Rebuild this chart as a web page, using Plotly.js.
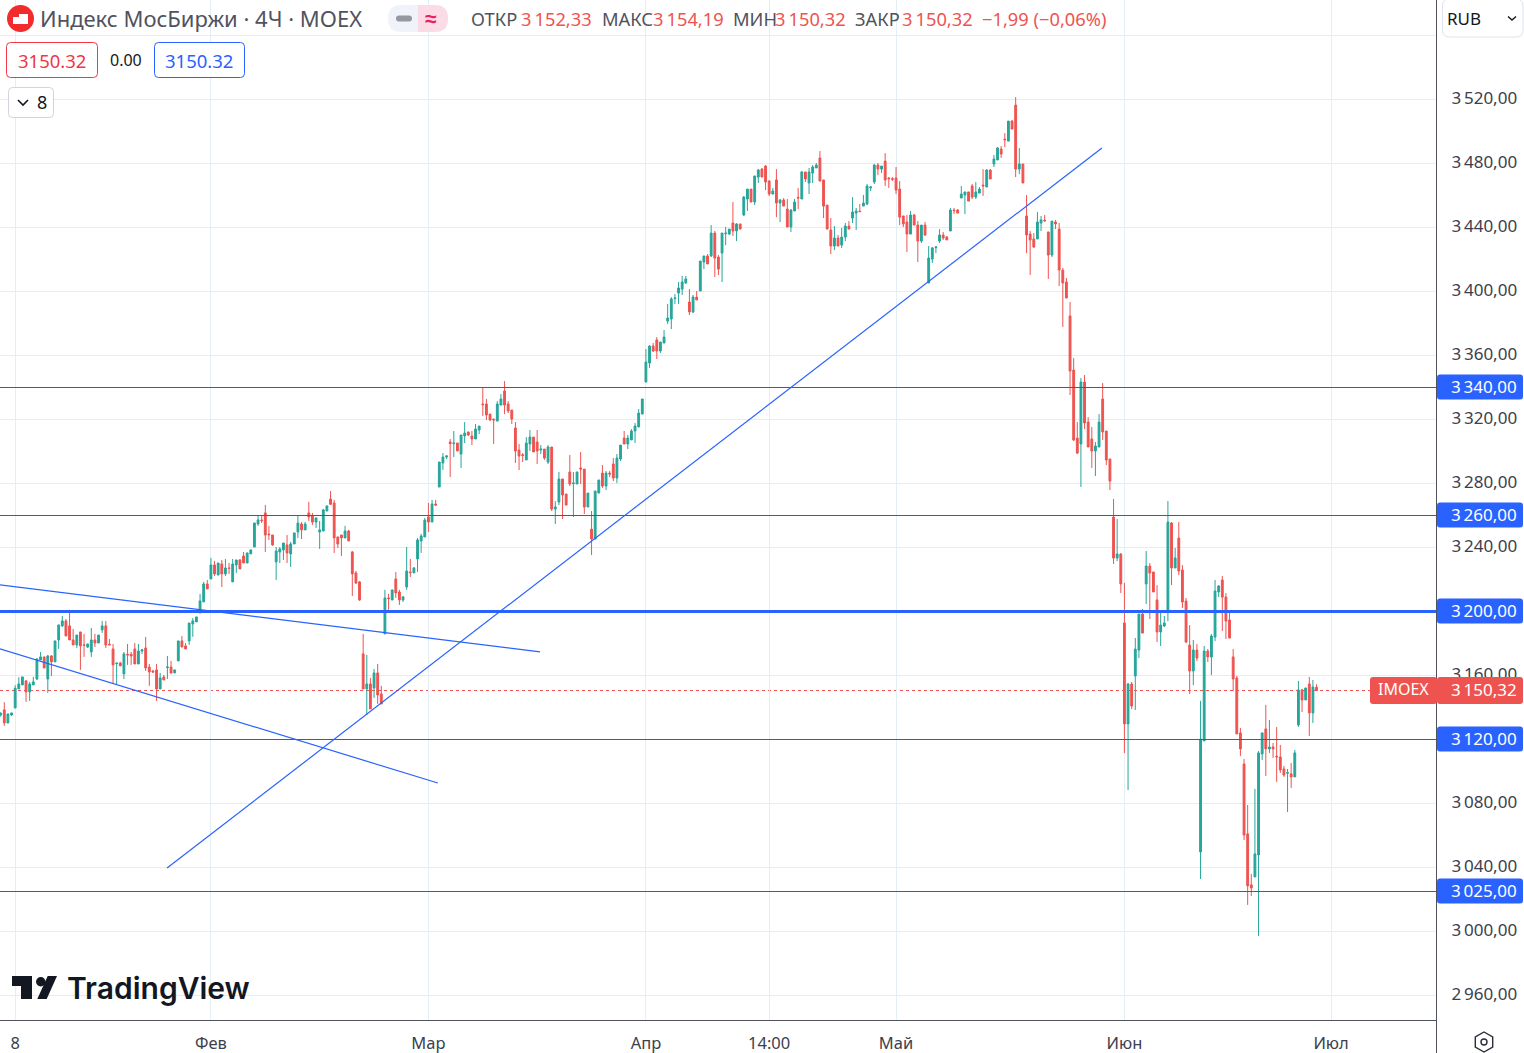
<!DOCTYPE html>
<html><head><meta charset="utf-8">
<script src="https://cdn.plot.ly/plotly-3.0.1.min.js"></script>
<style>html,body{margin:0;padding:0;background:#fff;overflow:hidden}#c{width:1524px;height:1053px}</style>
</head><body><div id="c"></div>
<script>
// Each row: open, high, low, close
const candlesJan = [
[3135.0,3136.7,3134.0,3136.1],[3138.2,3143.0,3128.2,3130.0],[3130.0,3135.7,3130.0,3135.7],[3135.0,3136.3,3134.4,3136.3],
[3139.4,3153.6,3139.4,3151.7],[3151.3,3158.6,3151.3,3154.4],[3153.8,3158.8,3153.8,3158.8],[3156.3,3156.9,3143.2,3149.4],
[3149.4,3155.7,3143.8,3154.4],[3153.8,3158.8,3153.8,3155.7],[3157.5,3170.5,3156.9,3170.0],[3169.4,3174.4,3169.4,3171.3],
[3171.3,3171.3,3164.4,3164.4],[3157.5,3172.5,3148.8,3171.9],[3171.9,3172.5,3159.4,3168.2],[3168.2,3181.3,3168.2,3181.3],
[3181.9,3191.3,3176.3,3191.3],[3190.7,3196.9,3190.0,3193.8],[3193.8,3195.0,3184.4,3184.4],[3190.7,3200.7,3181.9,3181.9],
[3181.9,3188.8,3178.8,3178.8],[3178.8,3185.0,3176.9,3185.0],[3186.9,3186.9,3163.2,3178.2],[3178.8,3185.7,3171.3,3178.6],
[3177.5,3179.4,3176.9,3179.4],[3174.4,3189.4,3171.3,3181.9],[3181.9,3185.7,3177.5,3180.0],[3180.0,3185.0,3180.0,3185.0],
[3188.2,3193.8,3186.3,3190.7],[3190.7,3193.8,3176.9,3178.8],[3179.2,3182.5,3178.8,3178.8],[3176.3,3179.4,3154.4,3166.3],
[3167.1,3167.5,3154.4,3167.5],[3167.5,3168.2,3165.7,3165.7],[3160.7,3174.4,3157.5,3173.2],[3172.9,3179.4,3166.3,3172.5],
[3172.9,3174.4,3166.3,3171.9],[3176.3,3180.0,3166.9,3166.9],[3166.9,3179.4,3166.9,3175.0],[3175.0,3176.3,3173.2,3175.7],
[3176.9,3183.8,3162.5,3164.4],[3165.0,3166.9,3153.2,3161.9],[3162.5,3163.2,3161.3,3161.9],[3163.2,3166.9,3143.8,3151.3],
[3151.3,3161.3,3151.3,3158.2],[3158.8,3160.0,3156.9,3156.9],[3164.6,3171.9,3157.5,3165.0],[3165.0,3168.8,3160.7,3161.3],
[3161.3,3163.2,3161.3,3163.2],[3168.8,3181.3,3168.8,3181.3],[3181.3,3184.4,3177.5,3177.5],[3178.2,3180.0,3176.3,3176.3],
[3181.3,3192.5,3178.8,3192.5],[3191.9,3195.6,3183.8,3193.8],[3193.2,3196.3,3193.2,3196.3],[3198.8,3210.7,3198.8,3206.3],
[3205.7,3218.2,3205.7,3216.9],[3216.9,3219.4,3213.8,3213.8]];
const candlesFeb = [
[3220.0,3233.2,3220.0,3228.8],[3228.8,3231.3,3221.9,3223.2],[3222.5,3230.0,3222.5,3230.0],[3229.4,3231.9,3215.0,3223.2],
[3223.2,3232.5,3221.9,3226.9],[3226.9,3230.0,3223.2,3226.6],[3218.2,3232.5,3218.2,3229.4],[3228.8,3231.9,3223.8,3231.9],
[3231.9,3232.5,3226.3,3226.3],[3234.4,3236.9,3230.0,3230.0],[3230.0,3236.3,3230.0,3236.3],[3235.7,3238.2,3235.7,3238.2],
[3240.0,3255.0,3240.0,3255.0],[3254.4,3259.4,3253.2,3256.9],[3256.9,3260.0,3255.0,3256.5],[3261.3,3266.3,3236.9,3247.5],
[3248.1,3253.2,3244.4,3247.7],[3247.5,3247.5,3240.7,3241.3],[3230.7,3240.0,3219.4,3237.5],[3236.9,3240.0,3230.0,3238.8],
[3238.2,3242.5,3231.9,3242.5],[3241.3,3247.5,3230.0,3236.3],[3235.7,3243.2,3227.5,3241.9],[3241.9,3248.8,3241.9,3248.8],
[3249.4,3259.4,3245.7,3255.0],[3254.4,3255.6,3245.0,3250.7],[3250.7,3255.6,3250.7,3254.4],[3261.3,3268.2,3256.3,3258.8],
[3259.4,3261.3,3253.8,3255.6],[3255.6,3258.2,3251.9,3258.2],[3249.4,3256.3,3238.8,3250.7],[3250.0,3263.8,3250.0,3263.2],
[3262.5,3265.7,3262.5,3265.7],[3270.0,3275.0,3266.3,3266.7],[3267.5,3269.4,3236.3,3245.7],[3246.3,3246.3,3239.4,3241.9],
[3247.5,3247.5,3234.4,3245.7],[3245.7,3253.2,3245.7,3250.0],[3250.0,3250.7,3243.8,3243.8],[3236.9,3237.5,3209.4,3223.2],
[3223.8,3225.0,3216.9,3217.5],[3218.2,3218.8,3206.3,3206.9],[3173.2,3185.7,3151.3,3151.3],[3151.3,3172.5,3135.0,3154.4],
[3154.4,3158.2,3138.8,3138.8],[3151.9,3163.8,3145.7,3161.3],[3161.3,3166.9,3141.9,3147.5],[3148.2,3153.2,3141.9,3141.9],
[3185.7,3213.2,3185.7,3208.2],[3208.2,3210.7,3200.7,3207.7],[3206.9,3213.2,3206.9,3213.2],[3220.0,3224.4,3208.2,3211.3],
[3211.9,3213.2,3203.8,3206.9],[3206.9,3209.4,3205.7,3208.8],[3215.0,3240.0,3213.2,3225.0],[3224.4,3232.5,3221.3,3224.0],
[3223.8,3227.5,3223.8,3226.9],[3232.5,3245.7,3224.4,3244.4],[3243.8,3248.2,3236.3,3246.9],[3246.3,3258.2,3246.3,3256.9]];
const candlesMar = [
[3258.8,3267.5,3249.4,3255.6],[3255.6,3269.4,3255.6,3266.9],[3266.9,3269.4,3265.6,3266.2],[3277.5,3293.1,3277.5,3293.1],
[3292.5,3298.7,3288.1,3296.2],[3296.2,3297.5,3295.0,3296.9],[3305.6,3307.5,3283.7,3304.6],[3304.6,3312.5,3296.2,3305.0],
[3305.0,3305.0,3300.0,3300.0],[3298.1,3310.0,3289.4,3310.0],[3309.4,3318.1,3305.0,3311.2],[3311.9,3311.9,3309.4,3310.0],
[3309.4,3312.5,3303.7,3307.5],[3307.5,3316.9,3307.5,3313.7],[3313.1,3315.6,3310.6,3315.6],[3329.4,3340.0,3321.9,3328.9],
[3329.4,3332.5,3319.4,3322.5],[3323.1,3323.1,3318.7,3319.4],[3320.0,3320.0,3304.4,3319.4],[3318.7,3331.2,3318.7,3329.4],
[3328.7,3335.6,3328.7,3332.5],[3337.5,3343.7,3323.1,3328.7],[3329.4,3331.2,3323.7,3325.0],[3325.6,3325.6,3316.9,3320.0],
[3314.4,3318.1,3292.5,3300.0],[3300.6,3304.4,3288.1,3296.9],[3297.7,3298.7,3293.1,3297.2],[3294.4,3308.7,3294.4,3305.0],
[3304.4,3313.1,3300.0,3308.7],[3308.7,3308.7,3299.4,3299.4],[3305.6,3313.1,3291.9,3300.0],[3300.6,3303.7,3298.1,3301.2],
[3301.2,3301.2,3294.4,3295.6],[3293.1,3303.7,3291.9,3302.5],[3302.5,3302.5,3262.5,3263.7],[3263.7,3268.7,3254.4,3265.0],
[3268.1,3286.9,3266.2,3282.5],[3282.5,3282.5,3257.5,3272.5],[3273.1,3273.1,3266.2,3266.2],[3286.9,3297.5,3278.1,3279.4],
[3279.6,3286.9,3258.7,3280.0],[3279.4,3286.9,3279.4,3286.9],[3289.4,3299.4,3279.4,3288.7],[3288.7,3288.7,3260.6,3265.0],
[3265.0,3273.7,3265.0,3273.7],[3251.2,3262.5,3235.0,3245.0],[3245.0,3275.0,3245.0,3275.0],[3273.7,3281.9,3273.7,3281.9],
[3286.2,3291.2,3276.9,3278.1],[3278.1,3287.5,3275.6,3286.2],[3286.2,3287.5,3283.7,3285.6],[3291.9,3295.6,3281.2,3283.1],
[3283.1,3298.1,3280.0,3295.6],[3295.0,3303.7,3293.7,3303.7],[3308.1,3312.5,3304.4,3304.4],[3304.4,3310.0,3301.2,3308.1],
[3306.9,3313.7,3306.9,3312.5],[3312.5,3317.5,3305.0,3315.6],[3315.0,3326.2,3315.0,3323.7],[3323.1,3332.5,3323.1,3332.5]];
const candlesApr = [
[3343.1,3363.7,3343.1,3355.6],[3355.0,3366.2,3351.9,3365.6],[3365.6,3367.5,3361.9,3362.5],[3369.4,3371.2,3357.5,3362.5],
[3362.5,3368.1,3361.2,3368.1],[3367.5,3375.6,3367.5,3371.2],[3381.2,3391.9,3379.4,3383.1],[3382.5,3396.2,3376.2,3395.0],
[3395.2,3398.1,3391.9,3395.6],[3398.7,3405.6,3391.9,3401.9],[3401.2,3409.4,3397.5,3405.6],[3405.0,3409.4,3404.4,3407.5],
[3393.1,3401.2,3385.0,3386.9],[3386.9,3397.5,3386.2,3396.2],[3396.2,3400.0,3394.4,3394.4],[3400.0,3418.7,3400.0,3418.7],
[3418.1,3421.9,3413.7,3421.9],[3421.9,3423.1,3416.9,3416.9],[3421.9,3441.2,3421.2,3436.2],[3436.2,3437.5,3408.7,3420.6],
[3421.2,3422.5,3410.0,3413.7],[3423.7,3436.2,3405.6,3436.2],[3435.8,3440.0,3428.7,3436.2],[3435.6,3438.7,3435.0,3438.7],
[3442.5,3455.6,3434.4,3437.5],[3437.5,3442.5,3431.2,3441.9],[3441.9,3441.9,3438.7,3438.7],[3447.5,3459.4,3446.9,3458.7],
[3457.5,3463.7,3450.0,3463.7],[3463.7,3463.7,3455.6,3455.6],[3455.6,3471.9,3453.7,3471.9],[3471.2,3476.2,3467.5,3475.6],
[3476.2,3476.9,3471.2,3471.2],[3478.1,3478.7,3463.1,3468.1],[3468.7,3469.4,3459.4,3460.6],[3460.6,3464.4,3460.6,3462.5],
[3469.4,3476.2,3446.2,3455.0],[3455.0,3457.5,3443.1,3456.9],[3456.9,3458.1,3453.1,3453.1],[3451.2,3457.5,3440.0,3440.0],
[3440.0,3451.2,3436.9,3450.6],[3450.0,3457.5,3450.0,3455.6],[3458.5,3464.4,3451.2,3458.1],[3457.5,3475.0,3457.5,3474.4],
[3474.4,3474.4,3468.1,3470.0],[3467.5,3476.9,3460.6,3474.4],[3473.7,3478.7,3467.5,3477.5],[3476.9,3480.0,3476.9,3478.7],
[3483.1,3487.5,3468.7,3468.7],[3469.4,3469.4,3445.6,3453.1],[3453.7,3453.7,3438.7,3438.7],[3438.1,3445.6,3423.1,3428.1],
[3428.1,3440.6,3425.6,3433.1],[3433.1,3435.0,3428.1,3428.1],[3428.7,3439.4,3426.9,3433.7],[3433.7,3442.5,3431.2,3440.6],
[3440.6,3443.7,3438.7,3438.7],[3445.6,3458.7,3442.5,3449.4],[3448.7,3451.9,3438.1,3450.0],[3449.9,3454.4,3449.4,3449.6],
[3453.1,3460.0,3453.1,3455.0],[3454.4,3466.9,3453.7,3465.6],[3464.4,3465.6,3462.5,3465.0],[3468.1,3479.4,3466.9,3478.7],
[3478.7,3480.0,3472.5,3476.2],[3476.2,3478.1,3473.7,3478.1],[3481.2,3486.2,3465.6,3469.4],[3470.6,3471.2,3464.4,3470.2],
[3470.2,3471.2,3468.7,3469.8]];
const candlesMay = [
[3470.6,3477.5,3460.6,3463.1],[3463.7,3468.7,3441.2,3446.2],[3446.9,3446.9,3440.0,3441.9],[3443.1,3447.5,3424.4,3435.6],
[3435.6,3450.0,3435.6,3447.5],[3447.5,3448.1,3441.2,3441.2],[3441.2,3443.7,3418.1,3431.2],[3431.2,3441.2,3430.0,3441.2],
[3441.2,3443.1,3434.4,3435.0],[3405.0,3428.1,3405.0,3420.6],[3420.0,3427.5,3417.5,3426.9],[3427.1,3428.1,3423.7,3427.5],
[3431.2,3438.7,3430.0,3435.0],[3435.0,3436.9,3431.9,3433.1],[3433.7,3434.4,3431.9,3431.9],[3437.5,3451.9,3437.5,3450.6],
[3450.6,3451.9,3448.1,3450.2],[3450.6,3451.2,3448.7,3448.7],[3458.1,3465.6,3458.1,3460.6],[3460.0,3461.9,3448.1,3461.9],
[3461.9,3461.9,3456.2,3456.2],[3465.6,3466.9,3457.5,3458.7],[3458.7,3468.1,3457.5,3461.9],[3461.2,3465.0,3461.2,3463.7],
[3466.2,3476.2,3459.4,3465.7],[3465.0,3476.2,3465.0,3475.6],[3475.6,3476.2,3470.0,3470.0],[3479.4,3485.0,3477.5,3482.5],
[3481.9,3490.0,3481.9,3489.4],[3488.7,3490.6,3483.1,3485.6],[3494.9,3498.7,3490.0,3494.5],[3493.7,3506.2,3493.7,3506.2],
[3506.2,3506.9,3501.2,3501.2],[3516.2,3521.2,3471.2,3476.2],[3476.2,3489.4,3473.1,3479.4],[3479.4,3479.4,3467.5,3467.5],
[3446.9,3460.0,3423.7,3435.0],[3435.6,3437.5,3410.0,3431.9],[3432.5,3436.2,3426.9,3427.5],[3432.5,3449.4,3432.5,3443.1],
[3442.5,3446.9,3437.5,3444.4],[3444.3,3447.5,3443.1,3443.9],[3436.9,3436.9,3407.5,3422.5],[3422.5,3443.7,3421.2,3443.7],
[3443.1,3444.4,3438.7,3441.9],[3438.7,3442.5,3403.1,3413.1],[3413.1,3414.4,3377.5,3405.0],[3405.6,3408.1,3395.6,3395.6],
[3384.4,3393.1,3335.0,3350.0],[3350.6,3358.1,3306.2,3306.9],[3308.1,3318.1,3298.1,3298.7],[3304.4,3345.6,3277.5,3343.1],
[3343.1,3347.5,3313.7,3317.5],[3318.1,3321.2,3302.5,3302.5],[3307.5,3315.0,3289.4,3300.0],[3300.0,3305.6,3284.4,3303.1],
[3302.5,3323.1,3302.5,3318.1],[3332.5,3342.5,3306.9,3311.9],[3312.5,3312.5,3291.2,3294.4],[3295.0,3295.0,3275.6,3281.2],
[3258.7,3270.0,3229.4,3233.1],[3233.1,3257.5,3231.2,3235.6],[3235.6,3236.2,3211.2,3216.9]];
const candlesJun = [
[3192.5,3217.5,3111.2,3129.4],[3129.4,3155.0,3088.1,3154.4],[3154.4,3155.6,3138.7,3140.6],[3159.4,3183.1,3138.1,3176.2],
[3175.6,3198.1,3170.6,3198.1],[3198.1,3201.2,3186.2,3186.2],[3216.9,3237.5,3204.4,3228.1],[3228.1,3230.0,3195.0,3223.7],
[3224.4,3224.4,3211.9,3211.9],[3206.9,3216.2,3180.6,3186.9],[3186.9,3200.0,3178.1,3191.2],[3190.6,3196.9,3190.0,3192.5],
[3199.4,3268.7,3193.7,3255.6],[3255.0,3255.6,3216.2,3226.9],[3226.9,3239.4,3226.9,3233.1],[3245.6,3255.6,3222.5,3225.0],
[3225.6,3228.7,3201.9,3205.6],[3206.2,3208.1,3180.0,3180.6],[3178.7,3191.2,3148.1,3162.5],[3162.5,3181.9,3153.7,3175.6],
[3175.6,3179.4,3168.7,3170.6],[3049.4,3143.8,3032.5,3120.0],[3118.8,3178.1,3118.8,3175.0],[3175.0,3176.3,3168.2,3171.3],
[3171.2,3185.6,3160.0,3184.4],[3183.7,3219.4,3181.2,3212.5],[3211.9,3216.2,3208.7,3215.6],[3219.4,3221.9,3187.5,3208.7],
[3208.7,3211.2,3182.5,3193.7],[3194.4,3200.6,3183.1,3183.1],[3171.3,3176.3,3150.0,3157.5],[3158.1,3159.4,3123.2,3123.2],
[3123.8,3126.9,3109.4,3113.8],[3104.4,3107.5,3056.9,3060.0],[3060.7,3078.8,3016.3,3028.2],[3028.8,3035.7,3021.9,3026.9],
[3033.8,3088.8,3033.8,3048.2],[3047.5,3112.5,2996.9,3111.3],[3110.7,3123.8,3106.9,3123.8],[3126.3,3141.3,3096.9,3113.8],
[3113.8,3131.9,3111.3,3115.0],[3115.0,3117.5,3108.2,3113.8],[3109.2,3127.5,3093.2,3108.8],[3108.8,3116.3,3098.8,3100.7],
[3101.3,3103.2,3096.3,3097.5],[3098.6,3101.3,3074.4,3099.0],[3098.2,3105.0,3089.4,3096.3],[3096.3,3113.2,3096.3,3111.3],
[3128.8,3156.3,3127.5,3150.7],[3150.7,3151.3,3136.9,3144.4],[3144.4,3151.9,3144.4,3151.9],[3154.4,3158.8,3121.9,3136.3],
[3136.3,3156.9,3130.0,3152.5],[3152.33,3154.19,3150.32,3150.32]];

const priceTicks = [3560,3520,3480,3440,3400,3360,3320,3280,3240,3200,3160,3120,3080,3040,3000,2960];
const priceLabels = ["","3\u2009520,00","3\u2009480,00","3\u2009440,00","3\u2009400,00","3\u2009360,00","3\u2009320,00","3\u2009280,00","3\u2009240,00","3\u2009200,00","3\u2009160,00","3\u2009120,00","3\u2009080,00","3\u2009040,00","3\u2009000,00","2\u2009960,00"];
const timeTicks = [4,58,118,178,212,247,310,367];
const timeLabels = ["8","Фев","Мар","Апр","14:00","Май","Июн","Июл"];
const levels = [3340,3260,3120,3025];
const levelLabels = ["3\u2009340,00","3\u2009260,00","3\u2009120,00","3\u2009025,00"];
const breakoutLevel = 3200, breakoutLabel = "3\u2009200,00";
const lastPrice = 3150.32, lastLabel = "3\u2009150,32";
// Trend lines: candle number and price at each end
const trends = [[45.9,3039.4,303.8,3489.4],[-0.2,3216.3,148.8,3174.4],[-0.2,3176.3,120.6,3092.5]];
const legendItems = [["ОТКР",469,"3\u2009152,33",519],["МАКС",600,"3\u2009154,19",651],["МИН",731,"3\u2009150,32",773],["ЗАКР",853,"3\u2009150,32",900]];

const rows = [...candlesJan,...candlesFeb,...candlesMar,...candlesApr,...candlesMay,...candlesJun];
const idx = rows.map((_,i)=>i);
const UP='#26a69a', DOWN='#ef5350', BLUE='#2962ff', INK='#50535e', TXT='#3c404d', LEVEL='#2a5bd7';
const FONT='"Noto Sans", sans-serif';
const W=1436, H=1020, STEP=3.625, X0=0.67;
const HALF=0.3125; // half a pixel in price units, keeps thin horizontal lines crisp
const px=x=>x/W, py=y=>1-y/H;
const yOf=p=>99+(3520-p)*1.6;

const shapes=[], ann=[];
function P(x,y){return px(x)+','+py(y);}
function rrect(x0,y0,x1,y1,r,fill,line,lw){
  const d='M'+P(x0+r,y0)+' L'+P(x1-r,y0)+' Q'+P(x1,y0)+' '+P(x1,y0+r)+' L'+P(x1,y1-r)+' Q'+P(x1,y1)+' '+P(x1-r,y1)+' L'+P(x0+r,y1)+' Q'+P(x0,y1)+' '+P(x0,y1-r)+' L'+P(x0,y0+r)+' Q'+P(x0,y0)+' '+P(x0+r,y0)+' Z';
  shapes.push({type:'path',xref:'paper',yref:'paper',path:d,fillcolor:fill,line:{color:line||'rgba(0,0,0,0)',width:line?(lw||1):0},layer:'above'});
}
function poly(pts,fill,line,lw,closed){
  const d=pts.map((p,i)=>(i?'L':'M')+P(p[0],p[1])).join(' ')+(closed?' Z':'');
  shapes.push({type:'path',xref:'paper',yref:'paper',path:d,fillcolor:fill||'rgba(0,0,0,0)',line:{color:line||'rgba(0,0,0,0)',width:line?(lw||1):0},layer:'above'});
}
function txt(t,x,y,size,color,anchor,weight,family){
  ann.push({text:t,xref:'paper',yref:'paper',x:px(x),y:py(y),xanchor:anchor||'left',yanchor:'middle',showarrow:false,
    font:{size:size,color:color,family:family||FONT,weight:weight||400}});
}

// levels
levels.forEach(v=>shapes.push({type:'line',xref:'paper',yref:'y',x0:0,x1:1,y0:v-HALF,y1:v-HALF,line:{color:LEVEL,width:1},layer:'above'}));
shapes.push({type:'line',xref:'paper',yref:'y',x0:0,x1:1,y0:breakoutLevel-HALF,y1:breakoutLevel-HALF,line:{color:BLUE,width:3},layer:'above'});
trends.forEach(t=>shapes.push({type:'line',xref:'x',yref:'y',x0:t[0],y0:t[1],x1:t[2],y1:t[3],line:{color:BLUE,width:1.2},layer:'above'}));
shapes.push({type:'line',xref:'paper',yref:'y',x0:0,x1:px(1370),y0:lastPrice,y1:lastPrice,line:{color:DOWN,width:1,dash:'dot'},layer:'below'});

// price chips
function chip(v,label,color){
  const y=yOf(v);
  rrect(1437,y-12.5,1523,y+12.5,3,color);
  txt(label,1449,y-1,17,'#ffffff');
}
levels.forEach((v,i)=>chip(v,levelLabels[i],BLUE));
chip(breakoutLevel,breakoutLabel,BLUE);
const ly=yOf(lastPrice);
rrect(1370,ly-13.5,1437,ly+13.5,3,DOWN);
rrect(1437,ly-13.5,1523,ly+13.5,3,DOWN);
txt('IMOEX',1403,ly-1,16,'#ffffff','center');
txt(lastLabel,1449,ly-1,17,'#ffffff');

// header
shapes.push({type:'circle',xref:'paper',yref:'paper',x0:px(7),x1:px(34),y0:py(5),y1:py(32),fillcolor:'#f22c2c',line:{width:0},layer:'above'});
poly([[13,17],[19,17],[19,14],[28,14],[28,24],[13,24]],'#ffffff',null,0,true);
txt('Индекс МосБиржи · 4Ч · MOEX',38,18,22,INK);
rrect(388,5,448,32,13.5,'#f0f3fa');
shapes.push({type:'path',xref:'paper',yref:'paper',layer:'above',fillcolor:'#fbdbe6',line:{width:0},
  path:'M'+P(418,5)+' L'+P(434.5,5)+' Q'+P(448,5)+' '+P(448,18.5)+' Q'+P(448,32)+' '+P(434.5,32)+' L'+P(418,32)+' Z'});
rrect(396,15.5,412,21.5,3,'#9598a1');
txt('≈',431,18,21,'#e91e63','center',700);
legendItems.forEach(it=>{txt(it[0],it[1],18,18.3,INK);txt(it[2],it[3],18,18.3,DOWN);});
txt('\u22121,99 (\u22120,06%)',980,18,18.3,DOWN);
rrect(6.5,42.5,97.5,77.5,4,'#ffffff','#f23645');
txt('3150.32',52,60,18.5,'#f23645','center');
txt('0.00',126,60,16,'#131722','center');
rrect(154.5,42.5,244.5,77.5,4,'#ffffff',BLUE);
txt('3150.32',199,60,18.5,BLUE,'center');
rrect(8.5,87.5,53.5,117.5,4,'#ffffff','#d1d4dc');
poly([[18,100],[23,105],[28,100]],null,'#131722',1.6);
txt('8',42,102,18,'#131722','center');
// currency box
rrect(1442.5,-1,1523,37,7,'#ffffff','#e0e3eb');
txt('RUB',1445,18,17,'#131722');
poly([[1508,16.5],[1512,20],[1516,16.5]],null,'#131722',1.4);

// logo
poly([[12,976],[32,976],[32,999],[21,999],[21,986],[12,986]],'#131722',null,0,true);
shapes.push({type:'circle',xref:'paper',yref:'paper',x0:px(36),x1:px(45.5),y0:py(977),y1:py(986.5),fillcolor:'#131722',line:{width:0},layer:'above'});
poly([[47.7,976],[57,976],[46.7,999],[37.3,999]],'#131722',null,0,true);
txt('TradingView',65,988,30,'#131722','left',600,'Inter, sans-serif');

// hexagon button
const hx=1484,hy=1042,hr=10;
poly([[hx,hy-hr],[hx+hr*.87,hy-hr*.5],[hx+hr*.87,hy+hr*.5],[hx,hy+hr],[hx-hr*.87,hy+hr*.5],[hx-hr*.87,hy-hr*.5]],null,'#2a2e39',1.4,true);
shapes.push({type:'circle',xref:'paper',yref:'paper',x0:px(hx-3),x1:px(hx+3),y0:py(hy-3),y1:py(hy+3),line:{color:'#2a2e39',width:1.4},layer:'above'});
// price axis line runs to the bottom edge
shapes.push({type:'line',xref:'paper',yref:'paper',x0:px(1436.5),x1:px(1436.5),y0:py(1020),y1:py(1053),line:{color:INK,width:1},layer:'above'});

const trace={type:'candlestick',x:idx,open:rows.map(r=>r[0]),high:rows.map(r=>r[1]),low:rows.map(r=>r[2]),close:rows.map(r=>r[3]),
  increasing:{line:{color:UP,width:1},fillcolor:UP},decreasing:{line:{color:DOWN,width:1},fillcolor:DOWN},whiskerwidth:0,hoverinfo:'skip',showlegend:false};

Plotly.newPlot('c',[trace],{
  width:1524,height:1053,margin:{l:0,r:88,t:0,b:33,pad:0},paper_bgcolor:'#fff',plot_bgcolor:'#fff',showlegend:false,boxgap:0.28,
  font:{family:FONT,color:TXT},
  xaxis:{type:'linear',range:[-X0/STEP,(W-X0)/STEP],tickmode:'array',tickvals:timeTicks,ticktext:timeLabels,tickangle:0,
    tickfont:{size:16.5,color:TXT,family:FONT},ticks:'outside',ticklen:8,tickcolor:'rgba(0,0,0,0)',
    showgrid:true,gridcolor:'#e4eef5',gridwidth:1,zeroline:false,showline:true,linecolor:INK,linewidth:1,rangeslider:{visible:false},fixedrange:true},
  yaxis:{type:'linear',side:'right',range:[3520-(H-99)*0.625,3520+99*0.625],tickmode:'array',tickvals:priceTicks,ticktext:priceLabels,
    tickfont:{size:17,color:TXT,family:FONT},ticks:'outside',ticklen:11,tickcolor:'rgba(0,0,0,0)',ticklabelshift:-1,
    showgrid:true,gridcolor:'#e8ebef',gridwidth:1,zeroline:false,showline:true,linecolor:INK,linewidth:1,fixedrange:true},
  shapes:shapes,annotations:ann
},{displayModeBar:false,staticPlot:true});
</script></body></html>
